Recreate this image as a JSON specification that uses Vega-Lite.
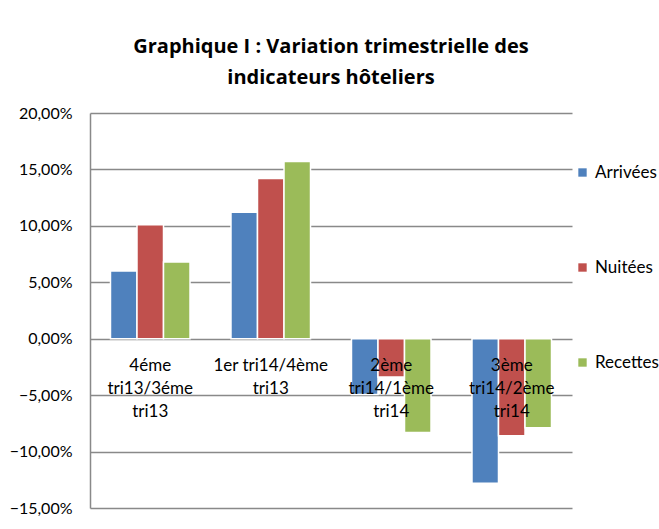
{
  "$schema": "https://vega.github.io/schema/vega-lite/v6.json",
  "width": 482,
  "height": 395,
  "autosize": {"type": "none"},
  "padding": {"left": 90, "top": 113, "right": 87, "bottom": 21},
  "background": "white",
  "title": {
    "text": ["Graphique I : Variation trimestrielle des", "indicateurs hôteliers"],
    "font": "Open Sans",
    "fontSize": 20,
    "fontWeight": "bold",
    "color": "#000000",
    "lineHeight": 31,
    "anchor": "middle",
    "offset": 17
  },
  "data": {
    "values": [
      {"periode": "4éme tri13/3éme tri13", "indicateur": "Arrivées", "variation": 6.0},
      {"periode": "4éme tri13/3éme tri13", "indicateur": "Nuitées", "variation": 10.1},
      {"periode": "4éme tri13/3éme tri13", "indicateur": "Recettes", "variation": 6.8},
      {"periode": "1er tri14/4ème tri13", "indicateur": "Arrivées", "variation": 11.2},
      {"periode": "1er tri14/4ème tri13", "indicateur": "Nuitées", "variation": 14.2},
      {"periode": "1er tri14/4ème tri13", "indicateur": "Recettes", "variation": 15.7},
      {"periode": "2ème tri14/1ème tri14", "indicateur": "Arrivées", "variation": -4.95},
      {"periode": "2ème tri14/1ème tri14", "indicateur": "Nuitées", "variation": -3.4},
      {"periode": "2ème tri14/1ème tri14", "indicateur": "Recettes", "variation": -8.3},
      {"periode": "3ème tri14/2ème tri14", "indicateur": "Arrivées", "variation": -12.8},
      {"periode": "3ème tri14/2ème tri14", "indicateur": "Nuitées", "variation": -8.6},
      {"periode": "3ème tri14/2ème tri14", "indicateur": "Recettes", "variation": -7.9}
    ]
  },
  "mark": {"type": "bar", "stroke": "white", "strokeWidth": 1.5},
  "encoding": {
    "x": {
      "field": "periode",
      "type": "nominal",
      "sort": null,
      "scale": {"paddingInner": 0.34, "paddingOuter": 0.17},
      "axis": {
        "title": null,
        "orient": "bottom",
        "offset": -169.3,
        "domain": false,
        "ticks": false,
        "grid": false,
        "labelAngle": 0,
        "labelFont": "Lato",
        "labelFontSize": 17,
        "labelColor": "#000000",
        "labelPadding": 19,
        "labelLineHeight": 23,
        "labelBaseline": "top",
        "labelExpr": "datum.value == '1er tri14/4ème tri13' ? ['1er tri14/4ème', 'tri13'] : split(datum.value, ' ')",
        "zindex": 1
      }
    },
    "xOffset": {"field": "indicateur", "type": "nominal"},
    "y": {
      "field": "variation",
      "type": "quantitative",
      "scale": {"domain": [-15, 20], "nice": false},
      "axis": {
        "title": null,
        "values": [-15, -10, -5, 0, 5, 10, 15, 20],
        "labelExpr": "replace(format(datum.value, '.2f'), '.', ',') + '%'",
        "labelFont": "Lato",
        "labelFontSize": 16,
        "labelColor": "#000000",
        "labelPadding": 18,
        "ticks": false,
        "domain": true,
        "domainColor": "#898989",
        "domainWidth": 1.5,
        "grid": true,
        "gridColor": "#898989",
        "gridWidth": 1.5,
        "zindex": 0
      }
    },
    "color": {
      "field": "indicateur",
      "type": "nominal",
      "scale": {"domain": ["Arrivées", "Nuitées", "Recettes"], "range": ["#4F81BD", "#C0504D", "#9BBB59"]},
      "legend": {
        "title": null,
        "orient": "none",
        "legendX": 484,
        "legendY": 51,
        "symbolType": "square",
        "symbolSize": 70,
        "symbolStrokeWidth": 0,
        "labelFont": "Lato",
        "labelFontSize": 17,
        "labelColor": "#000000",
        "labelOffset": 4,
        "rowPadding": 77
      }
    }
  },
  "config": {"view": {"stroke": null}}
}
